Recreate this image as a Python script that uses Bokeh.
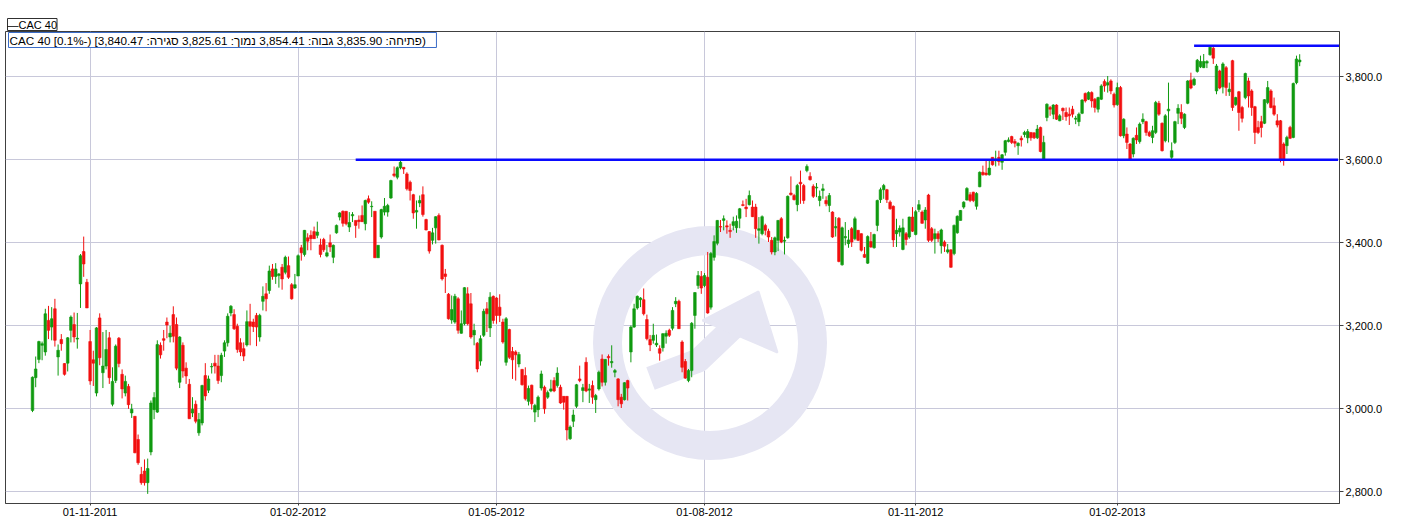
from bokeh.plotting import figure
from bokeh.models import Range1d, FixedTicker, NumeralTickFormatter, Label, ColumnDataSource
from bokeh.embed import file_html
from bokeh.resources import INLINE

# ---- data (daily candles, index = trading day from 06-10-2011) ----
opens = [
2996,3075,3119,3153,3137,3213,3197,3241,3125,3167,3109,3110,3189,3203,3168,3301,3379,3305,3162,3118,
3038,3219,3087,3103,3171,3011,3068,3170,3083,3038,3054,2990,2982,2926,2842,2850,2822,2896,2998,2992,
3153,3169,3209,3173,3227,3203,3064,3153,3098,3059,2990,3011,2942,2966,3080,3045,3101,3110,3103,3080,
3139,3159,3231,3227,3199,3159,3145,3154,3210,3209,3225,3173,3259,3277,3285,3337,3319,3321,3341,3329,
3345,3299,3291,3320,3388,3372,3412,3418,3427,3418,3395,3408,3368,3400,3365,3424,3462,3476,3476,3438,
3465,3454,3455,3466,3446,3506,3487,3476,3364,3414,3474,3474,3508,3566,3558,3581,3582,3566,3546,3516,
3474,3496,3516,3456,3427,3406,3436,3466,3394,3325,3276,3214,3209,3265,3182,3205,3277,3253,3178,3158,
3115,3177,3241,3195,3271,3267,3245,3209,3112,3191,3138,3137,3108,3095,3080,3018,3057,2992,2998,3050,
3052,3028,3043,3068,3056,3052,3030,3030,2928,2970,3006,3072,3044,3112,3045,3056,3022,3048,3120,3064,
3126,3111,3088,3072,3028,3022,3068,3137,3197,3243,3263,3263,3215,3167,3165,3154,3145,3147,3175,3189,
3194,3253,3259,3161,3114,3068,3092,3225,3297,3319,3297,3317,3245,3365,3399,3439,3454,3441,3430,3442,
3436,3459,3492,3486,3492,3486,3486,3430,3422,3442,3428,3406,3378,3406,3458,3404,3412,3520,3514,3492,
3546,3538,3574,3560,3536,3532,3502,3526,3502,3490,3474,3436,3459,3347,3412,3398,3434,3410,3430,3422,
3372,3351,3403,3388,3442,3504,3528,3528,3498,3488,3422,3426,3384,3422,3414,3462,3420,3480,3474,3455,
3515,3434,3410,3422,3393,3402,3378,3383,3374,3424,3454,3486,3503,3516,3522,3488,3535,3570,3568,3564,
3606,3598,3606,3594,3618,3644,3656,3644,3634,3652,3661,3653,3666,3665,3653,3678,3600,3702,3726,3710,
3732,3694,3724,3714,3710,3722,3698,3692,3712,3760,3746,3762,3746,3722,3746,3789,3780,3790,3758,3733,
3774,3658,3662,3638,3614,3659,3644,3692,3692,3666,3654,3666,3736,3688,3646,3718,3606,3642,3712,3714,
3678,3736,3792,3781,3813,3824,3822,3833,3853,3869,3766,3814,3776,3822,3764,3839,3733,3764,3726,3750,
3790,3766,3728,3678,3692,3688,3738,3766,3730,3694,3694,3638,3634,3678,3654,3786,3835.90]
highs = [
3078,3126,3164,3162,3241,3248,3245,3265,3155,3180,3110,3173,3225,3232,3231,3373,3415,3313,3190,3140,
3197,3230,3185,3190,3185,3100,3155,3173,3095,3080,3060,3012,2982,2938,2860,2878,2880,3020,3040,3165,
3160,3190,3220,3200,3247,3220,3175,3160,3112,3072,3028,3020,2990,3058,3110,3080,3110,3130,3130,3135,
3165,3230,3250,3240,3205,3170,3160,3237,3253,3217,3231,3229,3295,3303,3345,3349,3351,3327,3349,3369,
3367,3303,3325,3372,3395,3431,3423,3430,3439,3451,3410,3412,3395,3420,3396,3444,3474,3478,3476,3474,
3474,3454,3466,3490,3504,3514,3500,3476,3394,3482,3508,3494,3552,3584,3584,3598,3582,3570,3550,3518,
3502,3514,3536,3458,3428,3436,3464,3471,3396,3337,3279,3273,3277,3269,3237,3293,3293,3279,3205,3161,
3177,3241,3257,3281,3273,3269,3276,3217,3221,3193,3149,3141,3137,3096,3100,3056,3058,3012,3032,3092,
3056,3044,3070,3076,3100,3058,3030,3030,2960,2998,3060,3104,3060,3124,3060,3068,3036,3092,3131,3120,
3131,3153,3096,3074,3036,3064,3070,3201,3253,3273,3269,3290,3227,3178,3205,3179,3153,3182,3189,3193,
3245,3269,3263,3165,3120,3096,3209,3281,3332,3332,3327,3378,3378,3418,3455,3455,3466,3454,3446,3463,
3466,3484,3502,3506,3526,3502,3494,3462,3466,3446,3434,3414,3415,3455,3462,3415,3514,3560,3518,3542,
3574,3542,3589,3570,3541,3544,3526,3542,3512,3520,3476,3462,3462,3439,3450,3431,3438,3463,3431,3423,
3390,3418,3426,3422,3504,3533,3542,3530,3502,3490,3458,3442,3458,3426,3463,3486,3479,3503,3478,3486,
3518,3438,3434,3428,3434,3406,3397,3384,3444,3466,3479,3500,3534,3522,3523,3522,3572,3586,3600,3601,
3606,3622,3622,3614,3648,3654,3658,3650,3642,3658,3670,3674,3666,3666,3684,3680,3658,3736,3730,3734,
3734,3710,3726,3726,3726,3730,3706,3714,3746,3762,3765,3765,3749,3752,3782,3794,3802,3794,3762,3786,
3778,3700,3678,3640,3654,3678,3690,3712,3694,3670,3682,3742,3742,3690,3710,3786,3642,3694,3734,3734,
3712,3792,3810,3798,3843,3851,3855,3840,3875,3872,3831,3817,3835,3826,3786,3841,3752,3766,3730,3810,
3798,3770,3730,3694,3706,3746,3790,3770,3750,3710,3696,3642,3658,3682,3786,3851,3854.41]
lows = [
2992,3052,3110,3117,3128,3168,3165,3150,3080,3140,3080,3090,3160,3160,3145,3243,3318,3243,3058,3055,
3030,3105,3050,3095,3060,3006,3062,3100,3025,3030,3000,2978,2893,2865,2817,2815,2795,2888,2975,2990,
3121,3140,3170,3160,3160,3093,3050,3075,3060,2976,2980,2965,2935,2960,3020,3038,3085,3085,3060,3064,
3125,3150,3223,3190,3135,3127,3115,3150,3153,3185,3151,3162,3237,3235,3277,3311,3301,3292,3287,3324,
3313,3263,3289,3320,3357,3367,3382,3382,3410,3411,3365,3378,3365,3378,3351,3422,3454,3439,3442,3426,
3450,3412,3434,3450,3430,3494,3462,3364,3364,3410,3466,3463,3506,3558,3553,3577,3566,3526,3502,3458,
3434,3486,3463,3430,3374,3396,3398,3406,3309,3279,3215,3205,3205,3181,3181,3201,3201,3169,3153,3088,
3104,3173,3185,3173,3205,3205,3209,3157,3104,3120,3072,3068,3100,3056,3020,3008,2998,2968,2980,3044,
2988,3024,3040,3040,3051,3012,2998,2924,2925,2956,3002,3064,3016,3040,3014,3012,2990,3044,3054,3056,
3104,3099,3076,3006,3002,3020,3020,3112,3195,3239,3245,3225,3165,3139,3157,3149,3116,3138,3157,3173,
3189,3245,3193,3088,3072,3064,3076,3193,3289,3277,3293,3229,3239,3357,3394,3426,3430,3422,3412,3430,
3424,3435,3488,3462,3490,3462,3412,3398,3418,3418,3402,3372,3370,3380,3399,3372,3410,3514,3502,3476,
3494,3494,3570,3550,3508,3510,3488,3506,3488,3474,3412,3415,3353,3345,3394,3388,3390,3406,3404,3379,
3364,3349,3388,3386,3428,3496,3506,3496,3480,3390,3390,3415,3382,3394,3410,3426,3418,3474,3446,3434,
3402,3402,3374,3402,3374,3378,3374,3340,3370,3422,3454,3482,3502,3498,3498,3480,3534,3562,3562,3562,
3586,3584,3586,3576,3610,3642,3638,3630,3612,3632,3654,3640,3646,3650,3650,3618,3598,3693,3706,3698,
3696,3693,3696,3694,3684,3702,3686,3681,3710,3738,3744,3726,3714,3714,3744,3764,3762,3758,3726,3730,
3656,3652,3626,3600,3606,3638,3639,3686,3658,3655,3640,3662,3706,3620,3642,3642,3602,3638,3686,3686,
3674,3734,3770,3778,3810,3821,3821,3821,3851,3831,3758,3770,3760,3754,3754,3718,3730,3670,3690,3746,
3726,3706,3638,3662,3654,3686,3734,3724,3706,3678,3594,3586,3614,3650,3652,3782,3825.61]
closes = [
3076,3096,3162,3157,3229,3189,3217,3165,3141,3157,3083,3171,3221,3173,3170,3369,3349,3243,3067,3110,
3195,3123,3103,3143,3075,3066,3151,3109,3048,3066,3010,2999,2894,2870,2822,2822,2856,3014,3027,3155,
3130,3165,3202,3182,3175,3098,3173,3091,3079,2976,2999,2970,2974,3056,3031,3072,3102,3103,3068,3129,
3159,3223,3247,3193,3143,3137,3127,3210,3199,3198,3197,3225,3271,3265,3332,3319,3337,3325,3313,3365,
3317,3265,3299,3369,3376,3430,3404,3410,3410,3426,3372,3383,3376,3390,3394,3442,3472,3447,3446,3449,
3468,3442,3451,3451,3502,3498,3488,3364,3394,3480,3488,3490,3550,3562,3581,3594,3578,3530,3526,3472,
3478,3502,3468,3431,3380,3424,3463,3407,3313,3319,3217,3239,3271,3189,3205,3292,3205,3173,3189,3096,
3169,3235,3229,3269,3213,3225,3225,3161,3217,3124,3118,3130,3131,3058,3024,3049,3012,3008,3028,3084,
3000,3039,3048,3043,3086,3014,3016,2949,2956,2985,3058,3068,3051,3043,3048,3028,3032,3088,3064,3119,
3123,3114,3092,3022,3012,3063,3050,3197,3241,3271,3267,3229,3169,3154,3177,3158,3134,3181,3182,3177,
3237,3259,3193,3100,3074,3092,3206,3280,3321,3291,3321,3231,3374,3403,3454,3438,3458,3438,3427,3451,
3452,3482,3490,3482,3514,3463,3434,3434,3463,3430,3414,3378,3412,3454,3402,3406,3512,3516,3504,3538,
3542,3502,3584,3552,3512,3534,3512,3530,3494,3514,3414,3439,3355,3436,3415,3407,3402,3458,3406,3382,
3365,3415,3390,3420,3502,3528,3538,3504,3482,3407,3430,3435,3436,3408,3462,3428,3475,3492,3447,3479,
3406,3406,3422,3410,3431,3392,3383,3341,3442,3464,3478,3498,3531,3502,3502,3519,3570,3564,3564,3580,
3588,3602,3596,3612,3646,3648,3642,3640,3640,3648,3666,3668,3653,3653,3674,3620,3642,3734,3722,3732,
3698,3706,3718,3704,3706,3710,3700,3710,3744,3742,3762,3742,3726,3750,3778,3778,3786,3766,3732,3774,
3658,3698,3642,3602,3652,3648,3686,3698,3666,3658,3670,3738,3710,3622,3706,3722,3622,3692,3724,3700,
3710,3790,3773,3794,3840,3837,3837,3837,3871,3845,3826,3773,3831,3774,3770,3726,3750,3714,3700,3808,
3754,3726,3666,3666,3678,3745,3774,3726,3710,3684,3602,3602,3654,3652,3784,3843,3840.47]

tick_pos = [18, 83, 145, 210, 276, 339]
tick_labels = ["01-11-2011", "01-02-2012", "01-05-2012", "01-08-2012", "01-11-2012", "01-02-2013"]
price_ticks = [2800, 3000, 3200, 3400, 3600, 3800]
level_values = [3600, 3875]
level_start = [101, 363]
level_end = [408, 409]

series_name = "CAC 40"
info_parts = ["CAC 40 [0.1%-) [3,840.47 :", "סגירה", "  3,825.61 :", "נמוך",
              "  3,854.41 :", "גבוה", "  3,835.90 :", "פתיחה", ")"]

# ---- layout geometry (page pixels; the figure sits at the page origin) ----
W, H = 1422, 521
FL, FR, FT, FB = 5, 1339, 31, 503           # frame edges
X0, X1 = -8.4375, 408.44
Y0, Y1 = 2771.8, 3909.2

def px_x(px):
    return X0 + (px - FL) * (X1 - X0) / (FR - FL)

def px_y(py):
    return Y1 - (py - FT) * (Y1 - Y0) / (FB - FT)

FONT = "Liberation Sans"

p = figure(width=W, height=H, x_range=Range1d(X0, X1), y_range=Range1d(Y0, Y1),
           output_backend="svg", toolbar_location=None,
           title="\u2014" + series_name,
           y_axis_location="right",
           min_border_left=FL, min_border_right=W - FR,
           min_border_top=FT, min_border_bottom=H - FB)
p.background_fill_color = "white"
p.border_fill_color = "white"
p.outline_line_color = "#404040"
p.outline_line_width = 1

# series legend box (drawn as the title, sitting above the frame)
t = p.title
t.align = "left"
t.offset = 2
t.standoff = 2
t.text_font = FONT
t.text_font_size = "11px"
t.text_font_style = "normal"
t.text_color = "#000000"
t.border_line_color = "#303030"
t.border_line_width = 1
t.background_fill_color = "white"

# grid
p.xgrid.ticker = FixedTicker(ticks=tick_pos)
p.ygrid.ticker = FixedTicker(ticks=price_ticks)
for g in (p.xgrid, p.ygrid):
    g.grid_line_color = "#c8c8da"
    g.grid_line_width = 1

# x axis
xa = p.xaxis[0]
xa.ticker = FixedTicker(ticks=tick_pos)
xa.major_label_overrides = {t: s for t, s in zip(tick_pos, tick_labels)}
xa.major_tick_in = 0
xa.major_tick_out = 2
xa.minor_tick_line_color = None
xa.major_label_standoff = 2
xa.major_label_text_font = FONT
xa.major_label_text_font_size = "11px"
xa.major_label_text_color = "#000000"
xa.axis_line_color = "#404040"
xa.major_tick_line_color = "#404040"

# y axis (right)
ya = p.yaxis[0]
ya.ticker = FixedTicker(ticks=price_ticks)
ya.formatter = NumeralTickFormatter(format="0,0.0")
ya.major_tick_in = 0
ya.major_tick_out = 4
ya.minor_tick_line_color = None
ya.major_label_standoff = 2
ya.major_label_text_font = FONT
ya.major_label_text_font_size = "11px"
ya.major_label_text_color = "#000000"
ya.axis_line_color = "#404040"
ya.major_tick_line_color = "#404040"

# ---- watermark (decorative ring + arrow) ----
WM = "#e6e6f3"
cx, cy = px_x(709.5), px_y(342.5)
p.annulus(x=[cx], y=[cy], inner_radius=88, outer_radius=117,
          inner_radius_units="screen", outer_radius_units="screen",
          fill_color=WM, line_color=None)
p.line(x=[px_x(650), px_x(698), px_x(740)], y=[px_y(378), px_y(360), px_y(320)],
       line_color=WM, line_width=24, line_cap="butt", line_join="round")
p.patch(x=[px_x(758), px_x(702), px_x(777)], y=[px_y(291), px_y(320), px_y(352)],
        fill_color=WM, line_color=WM, line_width=2)

# ---- candles ----
idx = list(range(len(closes)))
colors = ["#109a10" if c >= o else "#f21010" for o, c in zip(opens, closes)]
src = ColumnDataSource(dict(
    x=idx, o=opens, h=highs, l=lows, c=closes,
    top=[max(o, c) for o, c in zip(opens, closes)],
    bottom=[min(o, c) for o, c in zip(opens, closes)],
    color=colors))
p.segment(x0="x", y0="l", x1="x", y1="h", line_color="color", line_width=1, source=src)
p.vbar(x="x", width=0.82, top="top", bottom="bottom", fill_color="color",
       line_color="color", line_width=0.6, source=src)

# ---- horizontal levels ----
p.segment(x0=level_start, y0=level_values, x1=level_end, y1=level_values,
          line_color="#0a0aff", line_width=2.6)

# ---- info box ----
LRM = "\u200e"
info_text = ""
for k, part in enumerate(info_parts):
    info_text += part
    if k % 2 == 1:
        info_text += LRM
info = Label(x=px_x(8), y=px_y(39.5), text=info_text,
             text_font=FONT, text_font_size="11.7px", text_color="#000000",
             text_align="left", text_baseline="middle",
             border_line_color="#3a6cc8", border_line_width=1,
             background_fill_color="white", padding=1)
p.add_layout(info)

open("out.html", "w").write(file_html(p, INLINE))
